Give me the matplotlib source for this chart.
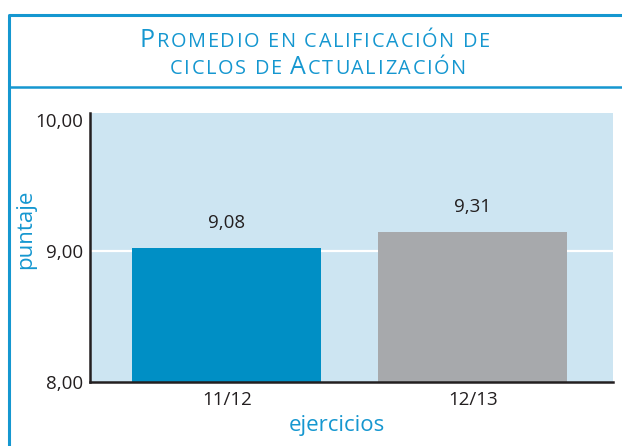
import matplotlib
matplotlib.use("Agg")
import matplotlib.pyplot as plt
from matplotlib.font_manager import FontProperties
from matplotlib.lines import Line2D

# data
ejercicios = ["11/12", "12/13"]
alturas = [9.02, 9.145]          # bar tops as drawn
etiquetas = ["9,08", "9,31"]     # printed values
yticks = [8, 9, 10]
ytick_labels = ["8,00", "9,00", "10,00"]

AZUL = "#1597d0"
FONDO = "#cde5f2"
W, H = 622, 446
FAM = "Open Sans"

fig = plt.figure(figsize=(W / 100, H / 100), dpi=100)


def px(x, y):
    return x / W, 1 - y / H


# axes area
l, t = px(90, 113)
r, b = px(613, 381.7)
ax = fig.add_axes([l, b, r - l, t - b])
ax.set_facecolor(FONDO)

ax.bar(range(len(ejercicios)), alturas, width=0.768, bottom=0,
       color=["#008fc5", "#a7a9ac"], zorder=2)
ax.axhline(9, color="white", lw=1.6, zorder=1)

for i, (h, s) in enumerate(zip(alturas, etiquetas)):
    ax.annotate(s, (i, h), xytext=(0, 18), textcoords="offset points",
                ha="center", va="center", fontsize=13.5, family=FAM,
                color="#231f20")

ax.set_xlim(-0.556, 1.570)
ax.set_ylim(8, 10.05)
ax.set_yticks(yticks)
ax.set_yticklabels(ytick_labels)
ax.set_xticks(range(len(ejercicios)))
ax.set_xticklabels(ejercicios)
ax.tick_params(length=0, labelsize=13.5, colors="#231f20")
ax.tick_params(axis="y", pad=5)
ax.tick_params(axis="x", pad=7)
for lab in ax.get_xticklabels() + ax.get_yticklabels():
    lab.set_family(FAM)
for s in ["top", "right"]:
    ax.spines[s].set_visible(False)
for s in ["left", "bottom"]:
    ax.spines[s].set_linewidth(1.8)
    ax.spines[s].set_color("#231f20")

fig.text(*px(26, 229), "puntaje", rotation=90, ha="center", va="center",
         fontsize=16, family=FAM, color=AZUL)
fig.text(*px(337, 426), "ejercicios", ha="center", va="center",
         fontsize=16, family=FAM, color=AZUL)

# frame around the chart
fig.add_artist(Line2D([8.7 / W, 8.7 / W, 1.01], [-0.01, 1 - 14.5 / H, 1 - 14.5 / H],
                      transform=fig.transFigure, color=AZUL, lw=2.2))
fig.add_artist(Line2D([8.7 / W, 1.01], [1 - 87 / H, 1 - 87 / H],
                      transform=fig.transFigure, color=AZUL, lw=1.8))

# title in small caps
renderer = fig.canvas.get_renderer()
BIG, SMALL = 18, 14.3
TRACK = 1.7


def small_caps(runs, cx, base_y):
    chars = []
    for txt, big in runs:
        for ch in txt:
            prop = FontProperties(family=FAM, size=BIG if big else SMALL,
                                  weight="medium")
            w, _, _ = renderer.get_text_width_height_descent(ch, prop, ismath=False)
            chars.append((ch, prop, w))
    total = sum(c[2] for c in chars) + TRACK * (len(chars) - 1)
    x = cx - total / 2
    for ch, prop, w in chars:
        fig.text(*px(x, base_y), ch, fontproperties=prop, ha="left",
                 va="baseline", color=AZUL)
        x += w + TRACK


small_caps([("P", True), ("ROMEDIO EN CALIFICACIÓN DE", False)], 315, 47)
small_caps([("CICLOS DE ", False), ("A", True), ("CTUALIZACIÓN", False)], 318, 74)

fig.savefig("out.png", dpi=100)
